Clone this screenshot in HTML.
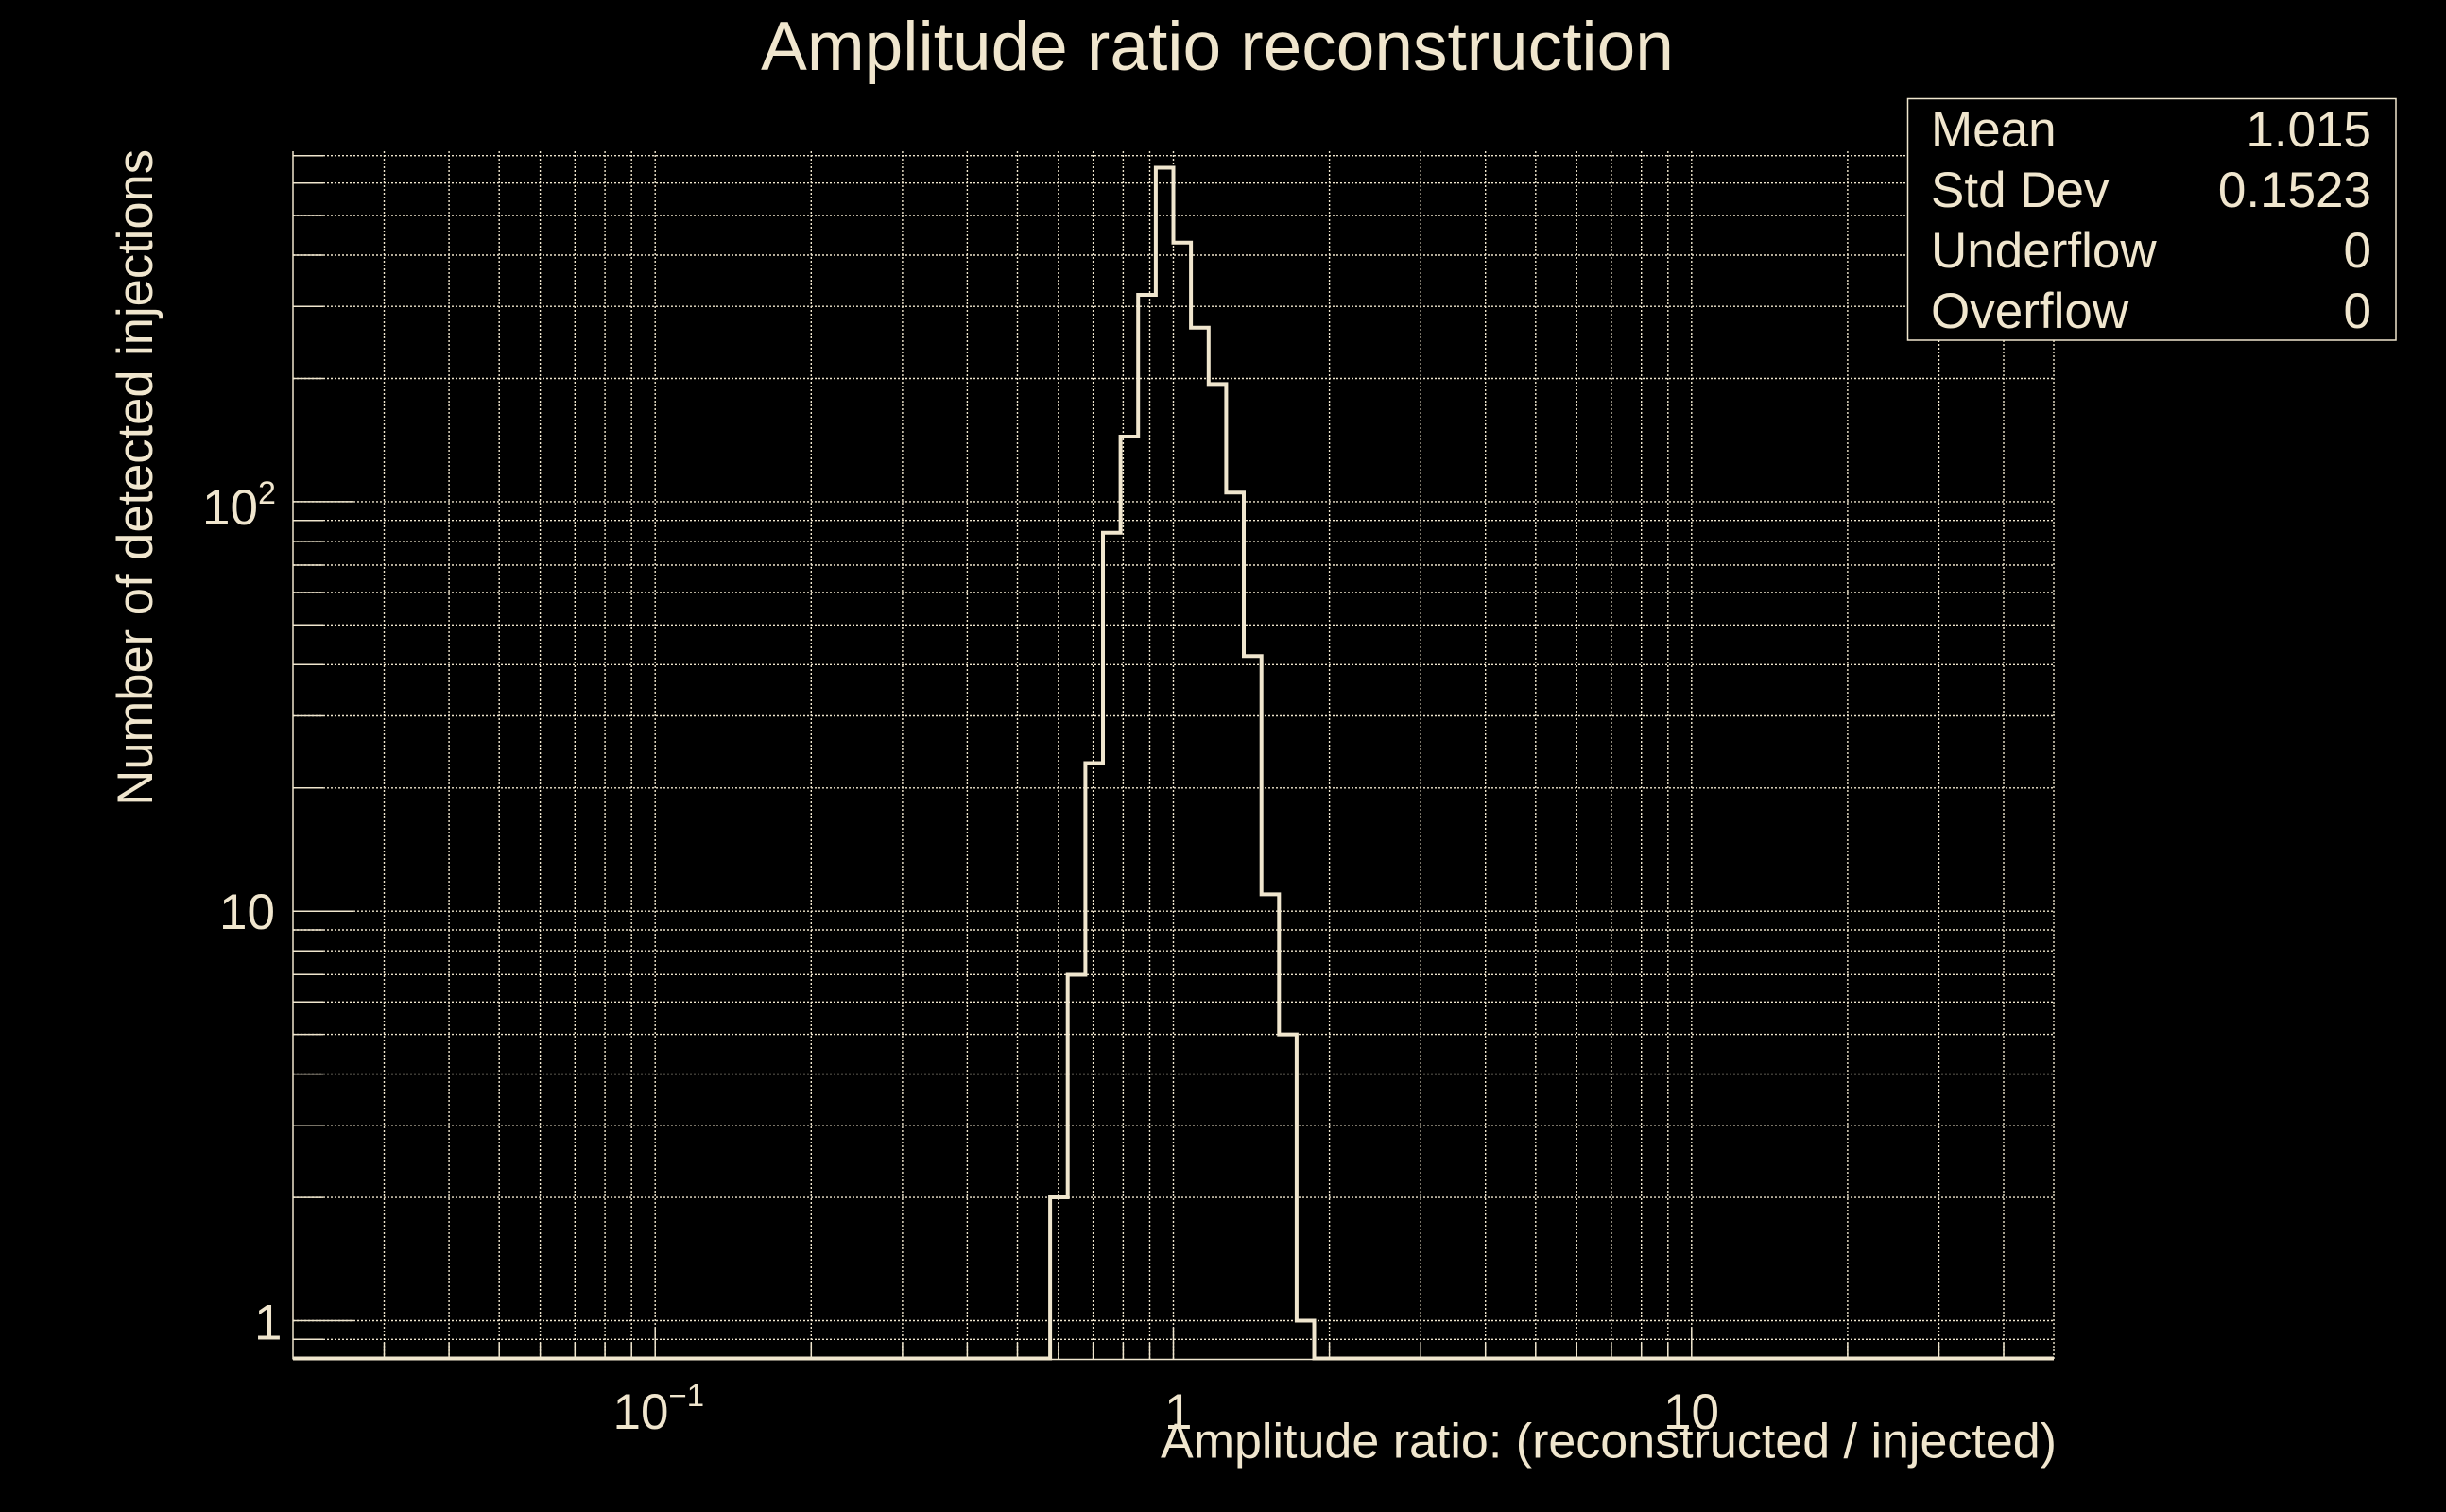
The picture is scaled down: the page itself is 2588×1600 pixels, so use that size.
<!DOCTYPE html>
<html>
<head>
<meta charset="utf-8">
<style>
  html, body { margin:0; padding:0; background:#000; }
  body { width:2588px; height:1600px; overflow:hidden; }
  svg { display:block; }
  text { font-family: "Liberation Sans", Arial, sans-serif; fill:#F0E6CE; }
</style>
</head>
<body>
<svg width="2588" height="1600" viewBox="0 0 2588 1600" xmlns="http://www.w3.org/2000/svg">
  <rect x="0" y="0" width="2588" height="1600" fill="#000"/>

  <!-- Title -->
  <text x="1288" y="74" font-size="73" text-anchor="middle">Amplitude ratio reconstruction</text>

  <!-- Grid: vertical -->
  <g stroke="#F0E6CE" stroke-width="1.4" stroke-dasharray="2 2" fill="none">
    <path d="M406.5,160V1438 M475.1,160V1438 M528.2,160V1438 M571.6,160V1438 M608.3,160V1438 M640.1,160V1438 M668.2,160V1438 M693.2,160V1438
             M858.3,160V1438 M954.9,160V1438 M1023.4,160V1438 M1076.5,160V1438 M1119.9,160V1438 M1156.6,160V1438 M1188.4,160V1438 M1216.5,160V1438 M1241.5,160V1438
             M1406.6,160V1438 M1503.2,160V1438 M1571.7,160V1438 M1624.8,160V1438 M1668.2,160V1438 M1704.9,160V1438 M1736.7,160V1438 M1764.8,160V1438 M1789.8,160V1438
             M1954.9,160V1438 M2051.5,160V1438 M2120,160V1438 M2173,160V1438"/>
    <!-- Grid: horizontal -->
    <path d="M310,1417.3H2173 M310,1397.5H2173 M310,1267.1H2173 M310,1190.8H2173 M310,1136.6H2173 M310,1094.6H2173 M310,1060.3H2173 M310,1031.3H2173 M310,1006.2H2173 M310,984H2173
             M310,964.2H2173 M310,833.8H2173 M310,757.5H2173 M310,703.3H2173 M310,661.3H2173 M310,627H2173 M310,598H2173 M310,572.9H2173 M310,550.7H2173
             M310,530.9H2173 M310,400.5H2173 M310,324.2H2173 M310,270H2173 M310,228H2173 M310,193.7H2173 M310,164.7H2173"/>
  </g>

  <!-- Axes -->
  <g stroke="#F0E6CE" stroke-width="1.5" fill="none">
    <path d="M310,160V1438.5"/>
    <path d="M310,1438.5H2173"/>
    <!-- y ticks: major -->
    <path d="M310,1397.5H373 M310,964.2H373 M310,530.9H373"/>
    <!-- y ticks: minor -->
    <path d="M310,1417.3H342 M310,1267.1H342 M310,1190.8H342 M310,1136.6H342 M310,1094.6H342 M310,1060.3H342 M310,1031.3H342 M310,1006.2H342 M310,984H342
             M310,833.8H342 M310,757.5H342 M310,703.3H342 M310,661.3H342 M310,627H342 M310,598H342 M310,572.9H342 M310,550.7H342
             M310,400.5H342 M310,324.2H342 M310,270H342 M310,228H342 M310,193.7H342 M310,164.7H342"/>
    <!-- x ticks: major -->
    <path d="M693.2,1438V1405 M1241.5,1438V1405 M1789.8,1438V1405"/>
    <!-- x ticks: minor -->
    <path d="M406.5,1438V1421 M475.1,1438V1421 M528.2,1438V1421 M571.6,1438V1421 M608.3,1438V1421 M640.1,1438V1421 M668.2,1438V1421
             M858.3,1438V1421 M954.9,1438V1421 M1023.4,1438V1421 M1076.5,1438V1421 M1119.9,1438V1421 M1156.6,1438V1421 M1188.4,1438V1421 M1216.5,1438V1421
             M1406.6,1438V1421 M1503.2,1438V1421 M1571.7,1438V1421 M1624.8,1438V1421 M1668.2,1438V1421 M1704.9,1438V1421 M1736.7,1438V1421 M1764.8,1438V1421
             M1954.9,1438V1421 M2051.5,1438V1421 M2120,1438V1421"/>
  </g>

  <!-- Histogram -->
  <path d="M310,1437.5 H1111.1 V1267 H1129.7 V1031.5 H1148.4 V807.5 H1167 V563.7 H1185.6 V462 H1204.2 V312 H1222.9 V177.5 H1241.5 V256.8 H1260.1 V346.8 H1278.8 V406.4 H1297.4 V521.2 H1316 V694.2 H1334.7 V946.4 H1353.3 V1094.6 H1371.9 V1397.5 H1390.5 V1437.5 H2173"
        fill="none" stroke="#F0E6CE" stroke-width="4" stroke-linejoin="miter"/>

  <!-- Y tick labels -->
  <text x="269" y="1417.5" font-size="53">1</text>
  <text x="232" y="983" font-size="53">10</text>
  <text x="214" y="555" font-size="53">10<tspan dy="-22" font-size="34">2</tspan></text>

  <!-- X tick labels -->
  <text x="648.5" y="1512" font-size="53">10<tspan dy="-24" font-size="33">−1</tspan></text>
  <text x="1232" y="1512" font-size="53">1</text>
  <text x="1760" y="1512" font-size="53">10</text>

  <!-- Axis titles -->
  <text x="2176" y="1542.5" font-size="52" text-anchor="end">Amplitude ratio: (reconstructed / injected)</text>
  <text transform="translate(161,158) rotate(-90)" font-size="52.5" text-anchor="end">Number of detected injections</text>

  <!-- Stats box -->
  <rect x="2018.5" y="104.5" width="516.5" height="255.5" fill="#000" stroke="#F0E6CE" stroke-width="1.5"/>
  <g font-size="53">
    <text x="2043" y="155">Mean</text>
    <text x="2509" y="155" text-anchor="end">1.015</text>
    <text x="2043" y="219">Std Dev</text>
    <text x="2509" y="219" text-anchor="end">0.1523</text>
    <text x="2043" y="283">Underflow</text>
    <text x="2509" y="283" text-anchor="end">0</text>
    <text x="2043" y="347">Overflow</text>
    <text x="2509" y="347" text-anchor="end">0</text>
  </g>
</svg>
</body>
</html>
